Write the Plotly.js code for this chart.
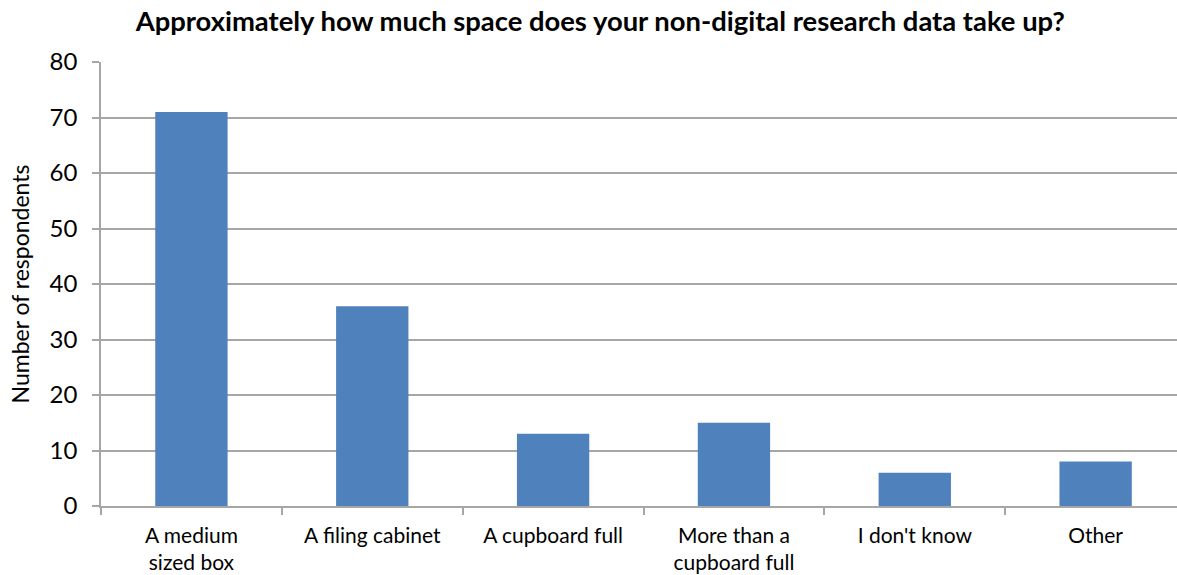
<!DOCTYPE html>
<html><head><meta charset="utf-8">
<script src="https://cdn.plot.ly/plotly-3.0.1.min.js"></script>
<style>html,body{margin:0;padding:0;background:#fff}</style>
</head><body>
<div id="chart" style="width:1177px;height:575px"></div>
<script>
const categories = ["A medium<br>sized box", "A filing cabinet", "A cupboard full", "More than a<br>cupboard full", "I don't know", "Other"];
const respondents = [71, 36, 13, 15, 6, 8];
const yTicks = [0, 10, 20, 30, 40, 50, 60, 70, 80];

const FONT = "Lato, 'Open Sans', sans-serif";
Plotly.newPlot("chart", [{
  type: "bar",
  x: categories,
  y: respondents,
  width: 0.4,
  marker: {color: "#4F81BD", line: {width: 0}},
  hoverinfo: "x+y"
}], {
  width: 1177, height: 575,
  margin: {l: 101, r: 0, t: 62, b: 69, pad: 0},
  paper_bgcolor: "#fff", plot_bgcolor: "#fff",
  showlegend: false,
  title: {text: "<b>Approximately how much space does your non-digital research data take up?</b>",
          font: {family: FONT, size: 27.4, color: "#000"}, x: 0.51, xanchor: "center", y: 0.962, yanchor: "middle"},
  xaxis: {
    range: [-0.5, 5.45], showgrid: false, showline: true, linecolor: "#a6a6a6", linewidth: 1.5,
    ticks: "outside", tickson: "boundaries", ticklen: 7, tickcolor: "#a6a6a6", tickwidth: 1.5,
    ticklabelstandoff: 10,
    tickfont: {family: FONT, size: 21, color: "#000"}, zeroline: false, fixedrange: true
  },
  yaxis: {
    range: [0, 80], tickvals: yTicks, showgrid: true, gridcolor: "#a6a6a6", gridwidth: 1.5,
    showline: true, linecolor: "#a6a6a6", linewidth: 1.5, ticks: "outside", ticklen: 7,
    tickcolor: "#a6a6a6", tickwidth: 1.5, zeroline: false, ticklabelstandoff: 10,
    tickfont: {family: FONT, size: 24, color: "#000"},
    title: {text: "Number of respondents", font: {family: FONT, size: 23, color: "#000"}, standoff: 14}
  }
}, {displayModeBar: false, staticPlot: false});
</script>
</body></html>
